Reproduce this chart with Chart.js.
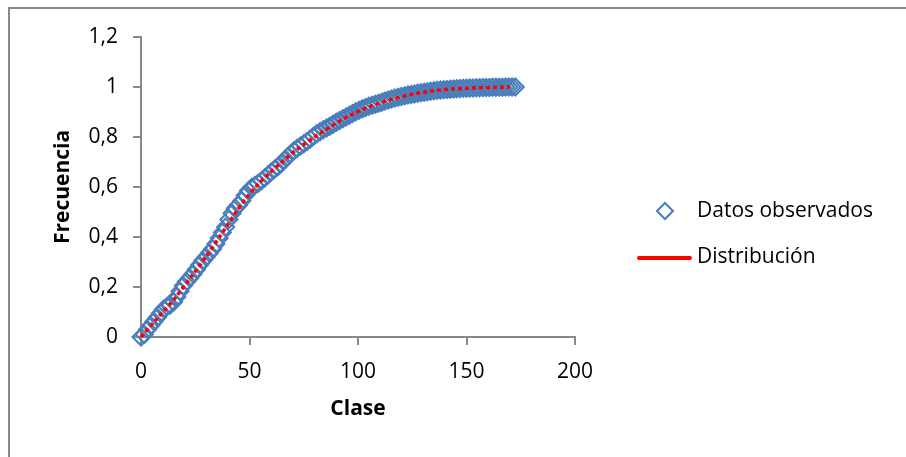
<!DOCTYPE html>
<html>
<head>
<meta charset="utf-8">
<script src="https://cdn.jsdelivr.net/npm/chart.js@4.4.1/dist/chart.umd.min.js"></script>
<style>
  html, body { margin: 0; padding: 0; background: #fff; }
  #wrap { position: relative; width: 906px; height: 457px; }
</style>
</head>
<body>
<div id="wrap"><canvas id="frecChart" width="906" height="457"></canvas></div>
<script>
// Datos observados (clase, frecuencia acumulada)
const clase = [
  0, 1.5, 3, 4.5, 6, 7.5, 9, 10.5, 12, 13.5, 15, 16.5, 18, 19.5, 21, 22.5, 24, 25.5, 27, 28.5,
  30, 31.5, 33, 34.5, 36, 37.5, 39, 40.5, 42, 43.5, 45, 46.5, 48, 49.5, 51, 52.5, 54, 55.5, 57, 58.5,
  60, 61.5, 63, 64.5, 66, 67.5, 69, 70.5, 72, 73.5, 75, 76.5, 78, 79.5, 81, 82.5, 84, 85.5, 87, 88.5,
  90, 91.5, 93, 94.5, 96, 97.5, 99, 100.5, 102, 103.5, 105, 106.5, 108, 109.5, 111, 112.5, 114, 115.5, 117, 118.5,
  120, 121.5, 123, 124.5, 126, 127.5, 129, 130.5, 132, 133.5, 135, 136.5, 138, 139.5, 141, 142.5, 144, 145.5, 147, 148.5,
  150, 151.5, 153, 154.5, 156, 157.5, 159, 160.5, 162, 163.5, 165, 166.5, 168, 169.5, 171, 172.5
];
const frecuencia = [
  0.000, 0.010, 0.030, 0.046, 0.062, 0.078, 0.095, 0.112, 0.122, 0.128, 0.140, 0.160, 0.183, 0.205, 0.222, 0.236, 0.252, 0.270, 0.288, 0.305,
  0.320, 0.336, 0.352, 0.372, 0.395, 0.418, 0.440, 0.470, 0.495, 0.515, 0.528, 0.545, 0.566, 0.585, 0.598, 0.606, 0.615, 0.625, 0.636, 0.648,
  0.660, 0.671, 0.681, 0.693, 0.707, 0.720, 0.733, 0.745, 0.755, 0.764, 0.773, 0.782, 0.792, 0.803, 0.813, 0.821, 0.829, 0.836, 0.843, 0.851,
  0.859, 0.866, 0.873, 0.880, 0.887, 0.894, 0.901, 0.907, 0.913, 0.918, 0.923, 0.927, 0.931, 0.935, 0.939, 0.944, 0.948, 0.952, 0.956, 0.959,
  0.962, 0.965, 0.968, 0.970, 0.972, 0.975, 0.977, 0.979, 0.981, 0.983, 0.985, 0.987, 0.988, 0.989, 0.990, 0.991, 0.992, 0.993, 0.994, 0.995,
  0.995, 0.996, 0.996, 0.997, 0.997, 0.998, 0.998, 0.998, 0.999, 0.999, 0.999, 0.999, 1.000, 1.000, 1.000, 1.000
];

// Distribución ajustada
const claseDist = [0, 5, 10, 15, 20, 25, 30, 35, 40, 45, 50, 55, 60, 65, 70, 75, 80, 85, 90, 95,
  100, 105, 110, 115, 120, 125, 130, 135, 140, 145, 150, 155, 160, 165, 170];
const distribucion = [0.000, 0.050, 0.100, 0.148, 0.205, 0.262, 0.322, 0.385, 0.450, 0.515, 0.572, 0.620, 0.662, 0.700, 0.738, 0.770, 0.800, 0.828, 0.855, 0.880,
  0.902, 0.920, 0.936, 0.950, 0.961, 0.971, 0.979, 0.985, 0.990, 0.993, 0.995, 0.997, 0.998, 0.999, 1.000];

const serieNombres = ['Datos observados', 'Distribución'];

const FONT = "'Open Sans', 'Liberation Sans', sans-serif";
const AZUL = '#4a7ebb';
const ROJO = '#ff0000';
const GRIS = '#898989';

// borde del área del gráfico y leyenda a la derecha
const marcoLeyenda = {
  id: 'marcoLeyenda',
  afterDraw(chart) {
    const ctx = chart.ctx;
    ctx.save();
    ctx.strokeStyle = GRIS;
    ctx.lineWidth = 2;
    ctx.beginPath();
    ctx.moveTo(9, 457);
    ctx.lineTo(9, 8);
    ctx.lineTo(906, 8);
    ctx.stroke();

    // diamante
    ctx.strokeStyle = AZUL;
    ctx.lineWidth = 2;
    ctx.beginPath();
    ctx.moveTo(657, 211);
    ctx.lineTo(665, 203);
    ctx.lineTo(673, 211);
    ctx.lineTo(665, 219);
    ctx.closePath();
    ctx.stroke();

    // línea
    ctx.strokeStyle = ROJO;
    ctx.lineWidth = 4;
    ctx.lineCap = 'round';
    ctx.beginPath();
    ctx.moveTo(639, 258);
    ctx.lineTo(690, 258);
    ctx.stroke();

    ctx.fillStyle = '#000';
    ctx.font = '21px ' + FONT;
    ctx.textBaseline = 'middle';
    ctx.textAlign = 'left';
    ctx.fillText(serieNombres[0], 697, 211);
    ctx.fillText(serieNombres[1], 697, 257);
    ctx.restore();
  }
};

const ctx = document.getElementById('frecChart').getContext('2d');
const frecChart = new Chart(ctx, {
  type: 'scatter',
  data: {
    datasets: [
      {
        label: serieNombres[0],
        data: clase.map((c, i) => ({ x: c, y: frecuencia[i] })),
        pointStyle: 'rectRot',
        pointRadius: 8.5,
        pointBorderWidth: 2,
        borderColor: AZUL,
        backgroundColor: 'rgba(0,0,0,0)',
        clip: false,
        order: 2
      },
      {
        label: serieNombres[1],
        data: claseDist.map((c, i) => ({ x: c, y: distribucion[i] })),
        showLine: true,
        pointRadius: 0,
        borderColor: ROJO,
        borderWidth: 3.5,
        borderDash: [4, 3],
        cubicInterpolationMode: 'monotone',
        clip: false,
        order: 1
      }
    ]
  },
  options: {
    responsive: false,
    animation: false,
    devicePixelRatio: 1,
    layout: { padding: { left: 50, top: 37, right: 331, bottom: 35 } },
    plugins: {
      legend: { display: false },
      tooltip: { enabled: false }
    },
    scales: {
      x: {
        type: 'linear',
        min: 0,
        max: 200,
        ticks: { stepSize: 50, color: '#000', padding: 14, font: { family: FONT, size: 21 } },
        grid: { drawOnChartArea: false, drawTicks: true, tickLength: 8, color: GRIS, lineWidth: 2 },
        border: { display: true, color: GRIS, width: 2 },
        title: { display: true, text: 'Clase', color: '#000', padding: 0, font: { family: FONT, size: 21, weight: 'bold' } },
        afterFit: function(scale) { scale.height = 85; }
      },
      y: {
        min: 0,
        max: 1.2,
        ticks: {
          stepSize: 0.2,
          color: '#000',
          padding: 15,
          font: { family: FONT, size: 21 },
          callback: function(value) {
            return String(Math.round(value * 10) / 10).replace('.', ',');
          }
        },
        grid: { drawOnChartArea: false, drawTicks: true, tickLength: 8, color: GRIS, lineWidth: 2 },
        border: { display: true, color: GRIS, width: 2 },
        title: { display: true, text: 'Frecuencia', color: '#000', padding: 0, font: { family: FONT, size: 21, weight: 'bold' } },
        afterFit: function(scale) { scale.width = 91; }
      }
    }
  },
  plugins: [marcoLeyenda]
});
</script>
</body>
</html>
